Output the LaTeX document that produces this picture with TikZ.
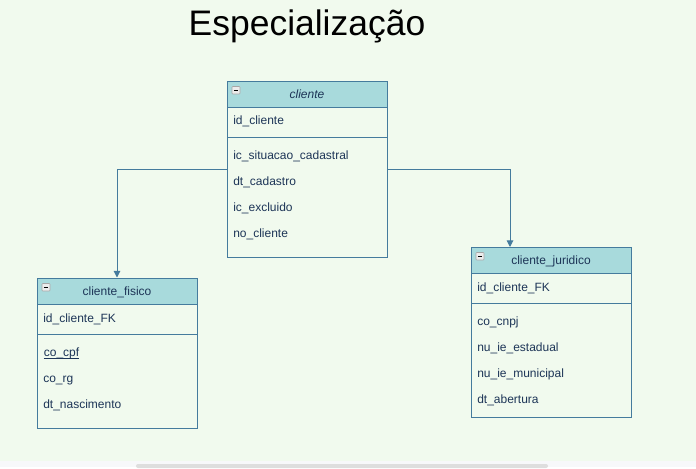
\documentclass[tikz,border=0pt]{standalone}
\usepackage{fontspec}
\setmainfont{Liberation Sans}
\usetikzlibrary{calc,arrows.meta}
\definecolor{bg}{HTML}{F1FAEE}
\definecolor{hdr}{HTML}{A8DADC}
\definecolor{strk}{HTML}{457B9D}
\definecolor{txt}{HTML}{1D3557}
\definecolor{stripc}{HTML}{F7F8FA}
\definecolor{scrollc}{HTML}{DEDEDE}
\newcommand{\ulfield}[1]{\tikz[baseline=0pt]{\node[inner sep=0pt, anchor=base west] (u) at (0,0) {#1}; \draw[txt, line width=0.5pt] ([yshift=-1.2pt]u.base west) -- ([yshift=-1.2pt]u.base east);}}
\tikzset{
  tablebox/.style={draw=strk, fill=bg, line width=0.75pt, minimum width=120pt, inner sep=0pt},
  field/.style={anchor=base west, inner sep=0pt, text=txt, font=\fontsize{9}{11}\selectfont},
  hdrtext/.style={anchor=base, inner sep=0pt, text=txt, font=\fontsize{9}{11}\selectfont},
  link/.style={draw=strk, line width=0.75pt, -{Triangle[length=5pt,width=5pt]}},
  minusicon/.style={draw=gray!70, fill=gray!15, line width=0.4pt, rounded corners=0.5pt}
}
\begin{document}
\begin{tikzpicture}[x=0.75pt,y=-0.75pt]
\fill[bg] (0,0) rectangle (696,467);
\fill[stripc] (0,461) rectangle (696,467);
\fill[scrollc, rounded corners=1.5pt] (136,464) rectangle (548,468);
\useasboundingbox (0,0) rectangle (696,467);

\node[inner sep=0pt, font=\fontsize{26.6}{30}\selectfont] (title) at (307,26) {Especialização};

% cliente
\node[tablebox, minimum height=132pt] (cliente) at (307,169) {};
\fill[hdr] (227,81) rectangle (387,107);
\draw[strk, line width=0.75pt] (227,81) rectangle (387,257);
\draw[strk, line width=0.75pt] (227,107) -- (387,107);
\draw[strk, line width=0.75pt] (227,137) -- (387,137);
\draw[minusicon] (232,86.5) rectangle (240,94);
\draw[black, line width=0.7pt] (233.8,90.3) -- (238.2,90.3);
\node[hdrtext, font=\fontsize{9}{11}\selectfont\itshape] (clienteh) at (307,98.5) {cliente};
\node[field] (c1) at (233,124.5) {id\_cliente};
\node[field] (c2) at (233,159.5) {ic\_situacao\_cadastral};
\node[field] (c3) at (233,185.5) {dt\_cadastro};
\node[field] (c4) at (233,211.5) {ic\_excluido};
\node[field] (c5) at (233,237.5) {no\_cliente};

% cliente_fisico
\node[tablebox, minimum height=112.5pt] (fisico) at (117,353) {};
\fill[hdr] (37,278) rectangle (197,304);
\draw[strk, line width=0.75pt] (37,278) rectangle (197,428);
\draw[strk, line width=0.75pt] (37,304) -- (197,304);
\draw[strk, line width=0.75pt] (37,334) -- (197,334);
\draw[minusicon] (42,283.5) rectangle (50,291);
\draw[black, line width=0.7pt] (43.8,287.3) -- (48.2,287.3);
\node[hdrtext] (fisicoh) at (117,295.5) {cliente\_fisico};
\node[field] (f1) at (43,322.5) {id\_cliente\_FK};
\node[field] (f2) at (43,356.5) {\ulfield{co\_cpf}};
\node[field] (f3) at (43,382.5) {co\_rg};
\node[field] (f4) at (43,408.5) {dt\_nascimento};

% cliente_juridico
\node[tablebox, minimum height=127.5pt] (juridico) at (551,332) {};
\fill[hdr] (471,247) rectangle (631,273);
\draw[strk, line width=0.75pt] (471,247) rectangle (631,417);
\draw[strk, line width=0.75pt] (471,273) -- (631,273);
\draw[strk, line width=0.75pt] (471,303) -- (631,303);
\draw[minusicon] (476,252.5) rectangle (484,260);
\draw[black, line width=0.7pt] (477.8,256.3) -- (482.2,256.3);
\node[hdrtext] (juridicoh) at (551,264.5) {cliente\_juridico};
\node[field] (j1) at (477,291.5) {id\_cliente\_FK};
\node[field] (j2) at (477,325.5) {co\_cnpj};
\node[field] (j3) at (477,351.5) {nu\_ie\_estadual};
\node[field] (j4) at (477,377.5) {nu\_ie\_municipal};
\node[field] (j5) at (477,403.5) {dt\_abertura};

% connectors
\coordinate (jtop) at (510,247);
\draw[link] (cliente.west) -| (fisico.north);
\draw[link] (cliente.east) -| (jtop);
\end{tikzpicture}
\end{document}
